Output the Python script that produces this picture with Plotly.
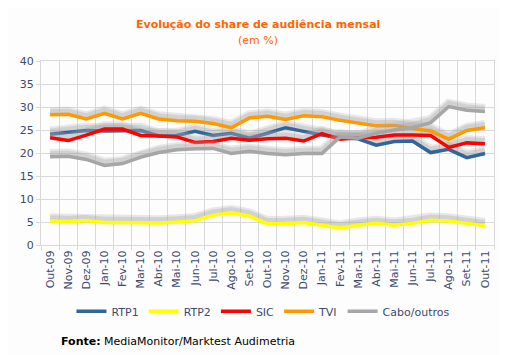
import plotly.graph_objects as go

months = ["Out-09", "Nov-09", "Dez-09", "Jan-10", "Fev-10", "Mar-10", "Abr-10", "Mai-10",
          "Jun-10", "Jul-10", "Ago-10", "Set-10", "Out-10", "Nov-10", "Dez-10", "Jan-11",
          "Fev-11", "Mar-11", "Abr-11", "Mai-11", "Jun-11", "Jul-11", "Ago-11", "Set-11", "Out-11"]

rtp1 = [24.1, 24.5, 24.9, 24.8, 24.8, 24.9, 23.7, 23.8, 24.7, 23.8, 24.3, 23.2, 24.3,
        25.5, 24.7, 23.9, 23.3, 23.1, 21.7, 22.5, 22.6, 20.1, 20.8, 19.0, 19.9]
rtp2 = [5.2, 5.1, 5.3, 4.9, 4.9, 4.8, 4.8, 5.0, 5.3, 6.5, 7.0, 6.3, 4.6,
        4.7, 4.9, 4.3, 3.7, 4.3, 4.7, 4.3, 4.7, 5.4, 5.2, 4.7, 4.2]
sic = [23.3, 22.7, 23.9, 25.2, 25.2, 23.8, 23.7, 23.5, 22.3, 22.5, 23.2, 22.8, 23.1,
       23.2, 22.6, 24.2, 23.0, 23.3, 23.4, 23.9, 23.9, 23.8, 21.2, 22.2, 22.0]
tvi = [28.3, 28.4, 27.4, 28.6, 27.4, 28.6, 27.4, 27.0, 26.9, 26.4, 25.5, 27.6, 28.0,
       27.3, 28.1, 27.9, 27.1, 26.5, 25.9, 26.0, 25.3, 24.8, 23.0, 24.9, 25.5]
cabo = [19.2, 19.3, 18.6, 17.3, 17.7, 19.1, 20.1, 20.7, 20.9, 21.0, 19.9, 20.4, 19.9,
        19.6, 19.9, 19.9, 23.5, 23.2, 24.3, 25.0, 25.5, 26.6, 30.1, 29.3, 29.0]

series_names = ["RTP1", "RTP2", "SIC", "TVI", "Cabo/outros"]
series_values = [rtp1, rtp2, sic, tvi, cabo]
series_colors = ["#31659c", "#ffff00", "#ff0000", "#ff9900", "#a6a6a6"]

FONT = "DejaVu Sans"
TICK_COLOR = "#3d4a70"
GRID = "#d9d9d9"
SHADOW_OFFSET = 0.7

fig = go.Figure()
for name, vals, col in zip(series_names, series_values, series_colors):
    shadow = [v + SHADOW_OFFSET for v in vals]
    fig.add_trace(go.Scatter(x=months, y=shadow, mode="lines", showlegend=False,
                             hoverinfo="skip",
                             line=dict(color="rgba(175,175,175,0.28)", width=9)))
    fig.add_trace(go.Scatter(x=months, y=shadow, mode="lines", showlegend=False,
                             hoverinfo="skip",
                             line=dict(color="rgba(155,155,155,0.28)", width=5)))
    fig.add_trace(go.Scatter(x=months, y=vals, mode="lines", name=name,
                             line=dict(color=col, width=3.5)))

fig.update_layout(
    width=499, height=347,
    margin=dict(l=28, r=13, t=53, b=110),
    paper_bgcolor="#fdfdfd", plot_bgcolor="#fdfdfd",
    font=dict(family=FONT, size=11, color=TICK_COLOR),
    showlegend=True,
    legend=dict(orientation="h", x=0.49, xanchor="center", y=-0.36, yanchor="middle",
                font=dict(family=FONT, size=11, color=TICK_COLOR),
                itemwidth=30, tracegroupgap=0, bgcolor="rgba(0,0,0,0)"),
    xaxis=dict(type="category", range=[-0.5, 24.5], tickson="boundaries",
               showgrid=True, gridcolor=GRID, gridwidth=1,
               ticks="outside", ticklen=4, tickcolor=GRID,
               showline=True, linecolor=GRID, mirror=True,
               tickangle=-90, tickfont=dict(family=FONT, size=11, color=TICK_COLOR)),
    yaxis=dict(range=[0, 40], dtick=5, showgrid=True, gridcolor=GRID, gridwidth=1,
               ticks="outside", ticklen=4, tickcolor=GRID,
               showline=True, linecolor=GRID, mirror=True, zeroline=False,
               tickfont=dict(family=FONT, size=11, color=TICK_COLOR)),
    annotations=[
        dict(text="<b>Evolução do share de audiência mensal</b>", xref="paper", yref="paper",
             x=0.478, y=1.196, xanchor="center", yanchor="middle", showarrow=False,
             font=dict(family=FONT, size=11, color="#ff6600")),
        dict(text="(em %)", xref="paper", yref="paper",
             x=0.478, y=1.114, xanchor="center", yanchor="middle", showarrow=False,
             font=dict(family=FONT, size=11, color="#ff6600")),
        dict(text="<b>Fonte:</b> MediaMonitor/Marktest Audimetria", xref="paper", yref="paper",
             x=0.039, y=-0.527, xanchor="left", yanchor="middle", showarrow=False,
             font=dict(family=FONT, size=11, color="#000000")),
    ],
)

fig.write_html("out.html")
